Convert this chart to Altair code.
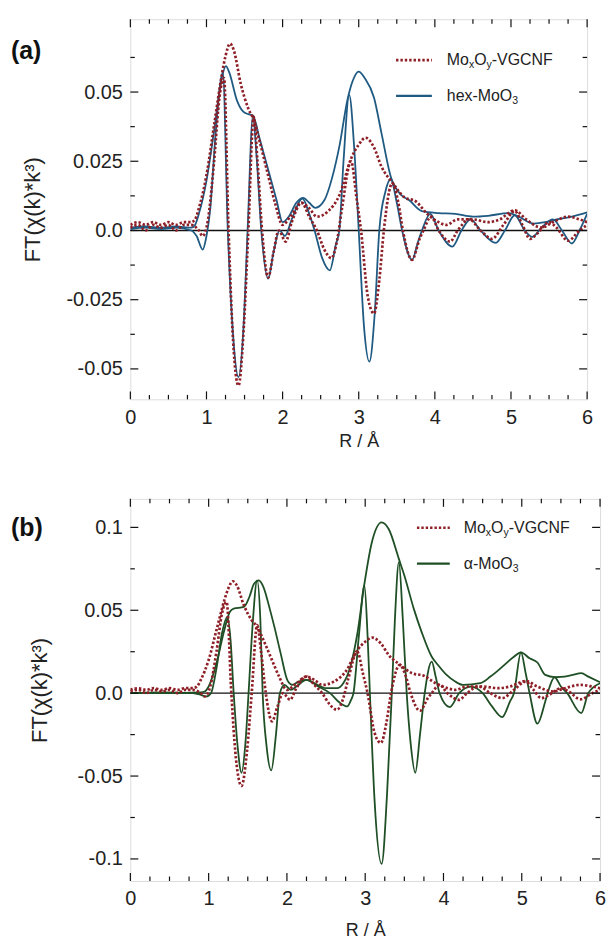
import altair as alt
import pandas as pd

FONT = "Liberation Sans"
RED = "#8e1f26"
BLUE = "#1f5a82"
GREEN = "#1f4f25"
INK = "#222222"

# ---------------- data ----------------
# MoxOy-VGCNF (same sample in both panels): magnitude
vg_mag_r = [0.0,0.1,0.2,0.3,0.4,0.5,0.6,0.7,0.8,0.85,0.9,1.0,1.1,1.2,1.25,1.31,1.36,1.45,1.55,
            1.62,1.7,1.8,1.9,2.0,2.1,2.25,2.35,2.45,2.6,2.75,2.9,3.0,3.09,3.2,3.3,3.45,3.6,3.75,3.9,
            4.05,4.15,4.3,4.5,4.7,4.85,5.05,5.2,5.4,5.55,5.75,5.9,6.0]
vg_mag_v = [0.002,0.003,0.002,0.003,0.002,0.003,0.002,0.003,0.003,0.004,0.008,0.020,0.038,0.056,0.063,0.0675,0.065,0.053,0.044,
            0.040,0.032,0.021,0.010,0.002,0.005,0.010,0.008,0.005,0.007,0.013,0.026,0.031,0.0335,0.030,0.023,0.017,0.012,0.0105,0.006,
            0.003,0.002,0.004,0.004,0.003,0.004,0.0073,0.004,0.001,0.003,0.005,0.004,0.003]
# MoxOy-VGCNF: imaginary part
vg_im_r = [0.0,0.1,0.2,0.3,0.4,0.5,0.6,0.7,0.8,0.9,0.95,1.02,1.1,1.17,1.23,1.29,1.35,1.42,1.49,1.55,
           1.62,1.67,1.73,1.81,1.88,1.95,2.04,2.12,2.25,2.35,2.45,2.55,2.64,2.72,2.78,2.9,2.97,3.03,3.12,3.2,
           3.27,3.33,3.44,3.52,3.58,3.7,3.8,3.85,3.95,4.05,4.2,4.3,4.45,4.6,4.75,4.9,5.05,5.15,5.25,5.35,
           5.5,5.6,5.75,5.9,6.0]
vg_im_v = [0.001,0.002,0.0,0.002,0.001,0.002,0.0,0.002,0.002,0.0,-0.002,0.004,0.025,0.048,0.055,0.0,-0.040,-0.056,-0.035,0.0,
           0.041,0.025,0.0,-0.017,-0.008,0.0,-0.004,0.003,0.010,0.005,0.0,-0.007,-0.010,-0.003,0.008,0.025,0.012,0.0,-0.024,-0.030,
           -0.018,0.0,0.017,0.010,0.0,-0.0106,-0.003,0.0,0.005,0.0,-0.004,0.0,0.004,0.0,-0.003,0.002,0.007,0.002,-0.003,-0.001,
           0.003,0.001,-0.0037,0.0,0.002]

# hex-MoO3: magnitude
hex_mag_r = [0.0,0.2,0.4,0.6,0.8,0.85,0.9,1.0,1.1,1.2,1.255,1.3,1.4,1.48,1.55,1.61,1.7,1.79,1.92,2.0,
             2.08,2.18,2.27,2.35,2.43,2.55,2.65,2.75,2.85,2.92,3.0,3.08,3.2,3.3,3.42,3.55,3.66,3.83,4.05,4.27,
             4.5,4.7,4.97,5.1,5.3,5.45,5.6,5.8,6.0]
hex_mag_v = [0.001,0.0015,0.001,0.0015,0.001,0.002,0.006,0.018,0.036,0.055,0.0594,0.057,0.047,0.043,0.042,0.0415,0.033,0.024,0.011,0.003,
             0.005,0.010,0.0118,0.010,0.0082,0.011,0.019,0.031,0.047,0.054,0.0574,0.055,0.048,0.035,0.0195,0.013,0.011,0.007,0.0063,0.006,
             0.005,0.0053,0.0063,0.005,0.0025,0.003,0.004,0.005,0.0065]
# hex-MoO3: imaginary part
hex_im_r = [0.0,0.2,0.4,0.6,0.8,0.87,0.95,1.0,1.05,1.12,1.215,1.28,1.35,1.42,1.49,1.54,1.61,1.66,1.72,1.81,
            1.88,1.96,2.03,2.12,2.26,2.35,2.42,2.52,2.62,2.7,2.745,2.8,2.875,2.94,3.0,3.07,3.14,3.21,3.27,3.35,
            3.42,3.5,3.57,3.7,3.78,3.83,3.94,4.05,4.23,4.35,4.47,4.6,4.8,4.92,5.05,5.18,5.28,5.4,5.55,5.67,
            5.8,5.9,6.0]
hex_im_v = [0.0005,0.001,0.0005,0.001,0.0,-0.002,-0.0069,-0.002,0.008,0.035,0.057,0.0,-0.038,-0.053,-0.033,0.0,0.0414,0.026,0.0,-0.0174,
            -0.008,0.0,-0.002,0.004,0.0115,0.006,0.0,-0.010,-0.0144,-0.005,0.0,0.025,0.049,0.030,0.0,-0.035,-0.0474,-0.030,0.0,0.014,
            0.0186,0.010,0.0,-0.0106,-0.004,0.0,0.006,0.0,-0.0058,0.0,0.004,0.0,-0.0045,0.0,0.0055,0.0,-0.0023,0.001,0.004,0.0,
            -0.0047,0.0,0.006]

# alpha-MoO3: magnitude
al_mag_r = [0.0,0.5,0.9,0.95,1.0,1.1,1.2,1.27,1.32,1.45,1.52,1.58,1.64,1.7,1.78,1.84,1.92,2.01,2.07,2.15,
            2.25,2.35,2.5,2.64,2.72,2.81,2.9,2.99,3.08,3.21,3.3,3.43,3.5,3.62,3.72,3.85,3.93,4.04,4.15,4.25,
            4.47,4.6,4.68,4.8,4.9,4.99,5.1,5.2,5.3,5.42,5.5,5.65,5.76,5.85,6.0]
al_mag_v = [0.0,0.0,0.0005,0.001,0.004,0.018,0.038,0.049,0.051,0.052,0.058,0.066,0.068,0.064,0.051,0.040,0.024,0.0074,0.005,0.007,
            0.008,0.006,0.003,0.003,0.006,0.016,0.036,0.066,0.090,0.103,0.099,0.081,0.071,0.051,0.037,0.022,0.017,0.011,0.007,0.005,
            0.006,0.010,0.013,0.018,0.022,0.0246,0.021,0.0185,0.011,0.0097,0.0098,0.011,0.0121,0.010,0.0066]
# alpha-MoO3: imaginary part
al_im_r = [0.0,0.4,0.8,0.9,0.97,1.03,1.1,1.17,1.24,1.28,1.32,1.37,1.42,1.47,1.51,1.56,1.62,1.66,1.69,1.74,
           1.80,1.86,1.91,1.97,2.05,2.12,2.25,2.4,2.55,2.68,2.77,2.82,2.85,2.92,2.99,3.03,3.06,3.12,3.21,3.28,
           3.34,3.38,3.43,3.48,3.53,3.58,3.64,3.70,3.76,3.85,3.9,3.95,4.08,4.2,4.35,4.5,4.62,4.75,4.85,4.9,
           4.99,5.05,5.1,5.2,5.3,5.33,5.42,5.5,5.58,5.76,5.85,6.0]
al_im_v = [0.0,0.0005,0.0,-0.001,-0.002,0.0,0.015,0.036,0.046,0.032,0.0,-0.032,-0.048,-0.030,0.0,0.040,0.068,0.045,0.0,-0.032,
           -0.0466,-0.025,0.0,0.005,0.002,0.004,0.008,0.004,0.0,-0.006,-0.008,-0.004,0.0,0.035,0.065,0.035,0.0,-0.065,-0.103,-0.060,
           0.0,0.045,0.079,0.045,0.0,-0.030,-0.048,-0.025,0.0,0.019,0.010,0.0,-0.0084,0.0,0.004,0.0,-0.008,-0.0144,-0.005,0.0,
           0.0246,0.012,0.0,-0.0184,-0.005,0.0,0.0096,0.004,0.0,-0.012,0.0,0.006]

# axis ticks
x_major = [0, 1, 2, 3, 4, 5, 6]
x_minor = [0.25, 0.5, 0.75, 1.25, 1.5, 1.75, 2.25, 2.5, 2.75, 3.25, 3.5, 3.75,
           4.25, 4.5, 4.75, 5.25, 5.5, 5.75]
ya_major = [-0.05, -0.025, 0.0, 0.025, 0.05]
ya_minor = [-0.0375, -0.0125, 0.0125, 0.0375, 0.0625]
yb_major = [-0.1, -0.05, 0.0, 0.05, 0.1]
yb_minor = [-0.075, -0.025, 0.025, 0.075]
ya_domain = [-0.061, 0.0763]
yb_domain = [-0.1133, 0.1172]

ONE = pd.DataFrame({"k": [0]})

# Arial-metric advance widths (per 1000 em) for legend layout
AW = {"M": 833, "o": 556, "O": 778, "x": 500, "y": 500, "-": 333, "V": 667, "G": 778,
      "C": 722, "N": 722, "F": 611, "h": 556, "e": 556, "3": 556, "α": 578}


def tw(s, size):
    return sum(AW.get(c, 556) for c in s) / 1000.0 * size


def legend_text(pieces, x0, y0, fs, color=INK):
    out = []
    x = x0
    for s, sub in pieces:
        size = fs * 0.66 if sub else fs
        dy = fs * 0.32 if sub else 0
        out.append(alt.Chart(ONE).mark_text(text=s, align="left", baseline="middle", font=FONT,
                                            fontSize=size, dy=dy, color=color)
                   .encode(x=alt.value(x), y=alt.value(y0)))
        x += tw(s, size)
    return out


def make_panel(curves, ydom, ymaj, ymin, W, H, legend, label, label_y, tpad, xtpad):
    xs = alt.Scale(domain=[0, 6], nice=False, zero=False)
    ys = alt.Scale(domain=ydom, nice=False, zero=False)
    xa = alt.Axis(values=x_major, format="d", title="R / Å", labelFontSize=20, titleFontSize=18,
                  titleFontWeight="normal", ticks=False, domain=False, grid=False, labelPadding=8,
                  titlePadding=xtpad, labelFlush=False, labelColor=INK, titleColor=INK,
                  labelFont=FONT, titleFont=FONT)
    ya = alt.Axis(values=ymaj, labelExpr="datum.value == 0 ? '0.0' : '' + datum.value",
                  title="FT(χ(k)*k³)", titleFontSize=22, labelFontSize=20, titleFontWeight="normal",
                  ticks=False, domain=False, grid=False, labelPadding=8, titlePadding=tpad,
                  labelColor=INK, titleColor=INK, labelFont=FONT, titleFont=FONT, labelFlush=False)

    def X(f):
        return alt.X(f, scale=xs, axis=xa)

    def Y(f):
        return alt.Y(f, scale=ys, axis=ya)

    layers = []
    # zero line
    layers.append(alt.Chart(pd.DataFrame({"z": [0.0]})).mark_rule(color="#111", strokeWidth=1.4)
                  .encode(y=Y("z:Q")))
    for r, v, color, dotted in curves:
        kw = dict(color=color, interpolate="monotone", clip=True)
        if dotted:
            kw.update(strokeWidth=2.7, strokeDash=[2.4, 2.0], strokeCap="butt")
        else:
            kw.update(strokeWidth=1.8)
        layers.append(alt.Chart(pd.DataFrame({"R": r, "v": v})).mark_line(**kw)
                      .encode(x=X("R:Q"), y=Y("v:Q")))
    # inward ticks on all four sides
    for vals, L in ((x_major, 8), (x_minor, 4.5)):
        d = pd.DataFrame({"R": vals})
        layers.append(alt.Chart(d).mark_rule(color="#111", strokeWidth=1.2)
                      .encode(x=X("R:Q"), y=alt.value(0), y2=alt.value(L)))
        layers.append(alt.Chart(d).mark_rule(color="#111", strokeWidth=1.2)
                      .encode(x=X("R:Q"), y=alt.value(H), y2=alt.value(H - L)))
    for vals, L in ((ymaj, 8), (ymin, 4.5)):
        d = pd.DataFrame({"v": vals})
        layers.append(alt.Chart(d).mark_rule(color="#111", strokeWidth=1.2)
                      .encode(y=Y("v:Q"), x=alt.value(0), x2=alt.value(L)))
        layers.append(alt.Chart(d).mark_rule(color="#111", strokeWidth=1.2)
                      .encode(y=Y("v:Q"), x=alt.value(W), x2=alt.value(W - L)))
    # legend
    lx0, lx1, tx, ys_leg, entries = legend
    for (pieces, color, dotted), yy in zip(entries, ys_leg):
        kw = dict(color=color)
        if dotted:
            kw.update(strokeWidth=2.7, strokeDash=[2.4, 2.0], strokeCap="butt")
        else:
            kw.update(strokeWidth=2.2)
        layers.append(alt.Chart(ONE).mark_rule(**kw)
                      .encode(x=alt.value(lx0), x2=alt.value(lx1), y=alt.value(yy)))
        layers += legend_text(pieces, tx, yy, 16)
    # panel label
    layers.append(alt.Chart(ONE).mark_text(text=label, align="left", baseline="middle", font=FONT,
                                           fontSize=25, fontWeight="bold", color="#111")
                  .encode(x=alt.value(-120), y=alt.value(label_y)))
    return alt.layer(*layers).properties(width=W, height=H)


vg_pieces = [("Mo", False), ("x", True), ("O", False), ("y", True), ("-VGCNF", False)]
hex_pieces = [("hex-MoO", False), ("3", True)]
al_pieces = [("α-MoO", False), ("3", True)]

panel_a = make_panel(
    [(hex_mag_r, hex_mag_v, BLUE, False), (hex_im_r, hex_im_v, BLUE, False),
     (vg_mag_r, vg_mag_v, RED, True), (vg_im_r, vg_im_v, RED, True)],
    ya_domain, ya_major, ya_minor, 459, 382,
    (267, 303, 318, [41, 77], [(vg_pieces, RED, True), (hex_pieces, BLUE, False)]),
    "(a)", 32, 22, 5)

panel_b = make_panel(
    [(al_mag_r, al_mag_v, GREEN, False), (al_im_r, al_im_v, GREEN, False),
     (vg_mag_r, vg_mag_v, RED, True), (vg_im_r, vg_im_v, RED, True)],
    yb_domain, yb_major, yb_minor, 472, 384,
    (288, 321, 335, [29, 65], [(vg_pieces, RED, True), (al_pieces, GREEN, False)]),
    "(b)", 29, 26, 13)

chart = (alt.vconcat(panel_a, panel_b, spacing=46)
         .resolve_scale(x="independent", y="independent")
         .properties(padding={"left": 10, "top": 15, "right": 2, "bottom": 2})
         .configure_view(stroke="#111", strokeWidth=1.5)
         .configure(font=FONT, background="white"))

chart.save("out.html", embed_options={"renderer": "svg", "actions": False})
